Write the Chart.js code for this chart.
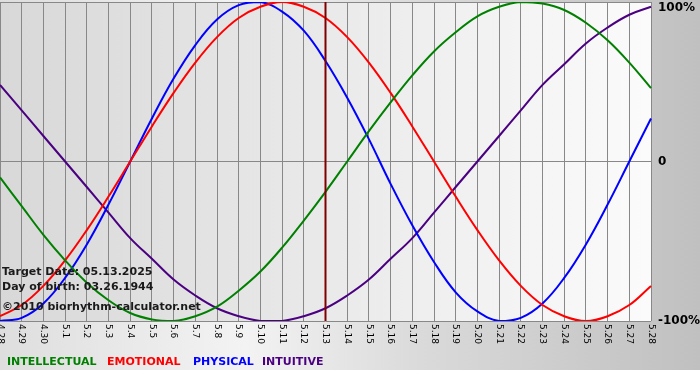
<!DOCTYPE html>
<html>
<head>
<meta charset="utf-8">
<script src="https://cdn.jsdelivr.net/npm/chart.js@4/dist/chart.umd.min.js"></script>
<style>
  body { margin: 0; background: #fff; }
  canvas { display: block; }
</style>
</head>
<body>
<canvas id="bioChart" width="700" height="380"></canvas>
<script>
// Ngày trên trục x (tháng.ngày)
const days = [
  '4.28', '4.29', '4.30', '5.1', '5.2', '5.3', '5.4', '5.5', '5.6', '5.7', '5.8',
  '5.9', '5.10', '5.11', '5.12', '5.13', '5.14', '5.15', '5.16', '5.17', '5.18',
  '5.19', '5.20', '5.21', '5.22', '5.23', '5.24', '5.25', '5.26', '5.27', '5.28'
];

// Giá trị (%)
const intellectual = [-10, -28, -46, -62, -76, -87, -95, -99, -100, -97, -91, -81, -69, -54, -37, -19,
  0, 19, 37, 54, 69, 81, 91, 97, 100, 99, 95, 87, 76, 62, 46];
const emotional = [-97, -90, -78, -62, -43, -22, 0, 22, 43, 62, 78, 90, 97, 100, 97, 90,
  78, 62, 43, 22, 0, -22, -43, -62, -78, -90, -97, -100, -97, -90, -78];
const physical = [-100, -98, -89, -73, -52, -27, 0, 27, 52, 73, 89, 98, 100, 94, 82, 63,
  40, 14, -14, -40, -63, -82, -94, -100, -98, -89, -73, -52, -27, 0, 27];
const intuitive = [48, 32, 16, 0, -16, -32, -48, -61, -74, -84, -92, -97, -100, -100, -97, -92,
  -84, -74, -61, -48, -32, -16, 0, 16, 32, 48, 61, 74, 84, 92, 97];

// Nhãn trục y
const yTickValues = [100, 0, -100];
const yTickLabels = ['100%', '0', '-100%'];

const targetDay = '5.13';
const infoLines = ['Target Date: 05.13.2025', 'Day of birth: 03.26.1944', '\u00a92010 biorhythm-calculator.net'];
const legendNames = ['INTELLECTUAL', 'EMOTIONAL', 'PHYSICAL', 'INTUITIVE'];
const legendColors = ['#008000', '#ff0000', '#0000ff', '#4b0082'];

// Vẽ nền (gradient) trước khi vẽ biểu đồ
const bgPlugin = {
  id: 'bg',
  beforeDraw(chart) {
    const c = chart.ctx;
    const a = chart.chartArea;
    c.save();
    let g = c.createLinearGradient(0, 0, 700, 0);
    g.addColorStop(0, '#dedede');
    g.addColorStop(0.35, '#f3f3f3');
    g.addColorStop(0.6, '#dadada');
    g.addColorStop(1, '#c0c0c0');
    c.fillStyle = g;
    c.fillRect(0, 0, 700, 370);
    g = c.createLinearGradient(a.left, 0, a.right, 0);
    g.addColorStop(0, '#d8d8d8');
    g.addColorStop(1, '#fbfbfb');
    c.fillStyle = g;
    c.fillRect(a.left, a.top, a.right - a.left, a.bottom - a.top);
    c.restore();
  }
};

// Vẽ nhãn, đường ngày mục tiêu, chú thích
const labelPlugin = {
  id: 'labels',
  afterDatasetsDraw(chart) {
    const c = chart.ctx;
    const a = chart.chartArea;
    const xs = chart.scales.x;
    const ys = chart.scales.y;
    c.save();
    // đường ngày mục tiêu
    const tx = xs.getPixelForValue(days.indexOf(targetDay));
    c.strokeStyle = '#800000';
    c.lineWidth = 2;
    c.beginPath();
    c.moveTo(tx, a.top);
    c.lineTo(tx, a.bottom);
    c.stroke();
  },
  afterDraw(chart) {
    const c = chart.ctx;
    const a = chart.chartArea;
    const xs = chart.scales.x;
    const ys = chart.scales.y;
    c.save();
    // nhãn trục x xoay 90 độ
    c.fillStyle = '#000';
    c.font = '9px "DejaVu Sans"';
    c.textAlign = 'left';
    c.textBaseline = 'middle';
    days.forEach((d, i) => {
      c.save();
      c.translate(xs.getPixelForValue(i), a.bottom + 3);
      c.rotate(Math.PI / 2);
      c.fillText(d, 0, 0);
      c.restore();
    });
    // nhãn trục y
    c.font = 'bold 12px "DejaVu Sans"';
    yTickValues.forEach((v, i) => {
      const py = Math.max(ys.getPixelForValue(v), a.top + 6);
      c.fillText(yTickLabels[i], 658, py);
    });
    // thông tin
    c.fillStyle = '#1a1a1a';
    c.font = 'bold 11px "DejaVu Sans"';
    const infoY = [272, 287, 307];
    infoLines.forEach((t, i) => c.fillText(t, 2, infoY[i]));
    // chú thích
    c.font = 'bold 11px "DejaVu Sans"';
    const legX = [7, 107, 193, 262];
    legendNames.forEach((n, i) => {
      c.fillStyle = legendColors[i];
      c.fillText(n, legX[i], 362);
    });
    c.restore();
  }
};

const ctx = document.getElementById('bioChart').getContext('2d');
const series = [intellectual, emotional, physical, intuitive];

new Chart(ctx, {
  type: 'line',
  data: {
    labels: days,
    datasets: series.map((s, i) => ({
      label: legendNames[i],
      data: s,
      borderColor: legendColors[i],
      borderWidth: 2,
      pointRadius: 0,
      tension: 0.4,
      fill: false
    }))
  },
  options: {
    responsive: false,
    animation: false,
    devicePixelRatio: 1,
    layout: { padding: { top: 2, left: 0, right: 0, bottom: 10 } },
    plugins: { legend: { display: false }, tooltip: { enabled: false } },
    scales: {
      x: {
        offset: false,
        grid: { color: '#888888', offset: false, drawTicks: false },
        border: { display: false },
        ticks: { display: false },
        afterFit(s) { s.height = 49; }
      },
      y: {
        position: 'right',
        min: -100,
        max: 100,
        grid: { color: '#888888', drawTicks: false },
        border: { display: false },
        ticks: { display: false, stepSize: 100 },
        afterFit(s) { s.width = 49; }
      }
    }
  },
  plugins: [bgPlugin, labelPlugin]
});
</script>
</body>
</html>
